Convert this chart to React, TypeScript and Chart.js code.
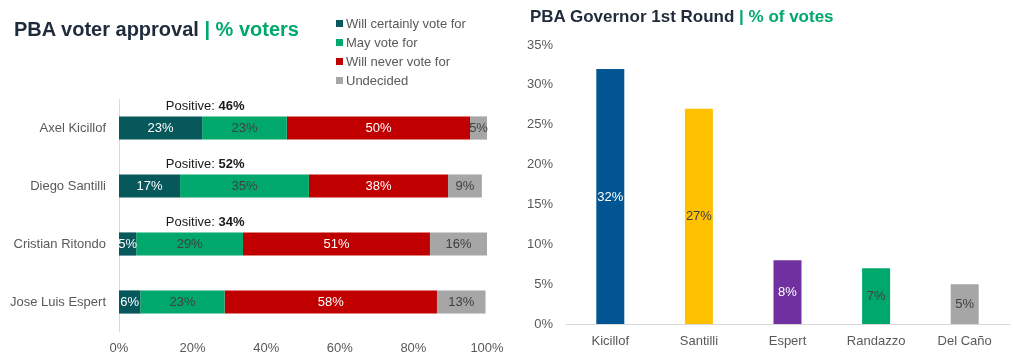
import React, { useEffect, useRef } from "react";
import { Chart, registerables } from "chart.js";
Chart.register(...registerables);

// ---------- Data ----------
const approvalCandidates = ["Axel Kicillof", "Diego Santilli", "Cristian Ritondo", "Jose Luis Espert"];
const approvalSeries = ["Will certainly vote for", "May vote for", "Will never vote for", "Undecided"];
const certainlyVote = [22.6, 16.6, 4.7, 5.8];
const mayVote = [23, 35, 29, 22.9];
const neverVote = [49.8, 37.8, 50.8, 57.7];
const undecided = [4.6, 9.2, 15.5, 13.2];
const positiveShare = [46, 52, 34, null];
const approvalTickMax = 100;

const roundCandidates = ["Kicillof", "Santilli", "Espert", "Randazzo", "Del Caño"];
const roundVotes = [32, 27, 8, 7, 5];
const roundTickMax = 35;

// ---------- Styles ----------
const FONT = "'Liberation Sans', Arial, Helvetica, sans-serif";
const TICK_COLOR = "#595959";
const TITLE_COLOR = "#1f2b3b";
const ACCENT = "#00a86b";
const approvalColors = ["#07585a", "#00a86b", "#c00000", "#a6a6a6"];
const approvalLabelColors = ["#ffffff", "#404040", "#ffffff", "#404040"];
const roundColors = ["#005592", "#ffc000", "#7030a0", "#00a86b", "#a6a6a6"];
const roundLabelColors = ["#ffffff", "#404040", "#ffffff", "#404040", "#404040"];

function makeValueLabelPlugin(colorFor: (di: number, i: number) => string) {
  return {
    id: "valueLabels",
    afterDatasetsDraw(chart: any) {
      const ctx = chart.ctx;
      ctx.save();
      ctx.font = `13px ${FONT}`;
      ctx.textAlign = "center";
      ctx.textBaseline = "middle";
      chart.data.datasets.forEach((ds: any, di: number) => {
        const meta = chart.getDatasetMeta(di);
        meta.data.forEach((el: any, i: number) => {
          const v = ds.data[i];
          if (v == null) return;
          const p = el.getCenterPoint();
          ctx.fillStyle = colorFor(di, i);
          ctx.fillText(Math.round(v) + "%", p.x, p.y + 0.5);
        });
      });
      ctx.restore();
    },
  };
}

function makePositivePlugin(anchorValue: number) {
  return {
    id: "positiveLabels",
    afterDatasetsDraw(chart: any) {
      const ctx = chart.ctx;
      const meta = chart.getDatasetMeta(0);
      const cx = chart.scales.x.getPixelForValue(anchorValue);
      ctx.save();
      ctx.textBaseline = "middle";
      ctx.textAlign = "left";
      ctx.fillStyle = "#1a1a1a";
      positiveShare.forEach((v, i) => {
        if (v == null) return;
        const el = meta.data[i] as any;
        const y = el.y - 22;
        const a = "Positive: ";
        const b = v + "%";
        ctx.font = `13px ${FONT}`;
        const wa = ctx.measureText(a).width;
        ctx.font = `bold 13px ${FONT}`;
        const wb = ctx.measureText(b).width;
        const x0 = cx - (wa + wb) / 2;
        ctx.font = `13px ${FONT}`;
        ctx.fillText(a, x0, y);
        ctx.font = `bold 13px ${FONT}`;
        ctx.fillText(b, x0 + wa, y);
      });
      ctx.restore();
    },
  };
}

function ApprovalChart() {
  const ref = useRef<HTMLCanvasElement>(null);
  useEffect(() => {
    const series = [certainlyVote, mayVote, neverVote, undecided];
    const chart = new Chart(ref.current as HTMLCanvasElement, {
      type: "bar",
      data: {
        labels: approvalCandidates,
        datasets: approvalSeries.map((name, k) => ({
          label: name,
          data: series[k],
          backgroundColor: approvalColors[k],
          borderWidth: 0,
          categoryPercentage: 1,
          barPercentage: 0.4,
        })),
      },
      options: {
        indexAxis: "y",
        responsive: false,
        animation: false,
        layout: { padding: { top: 99, right: 23, left: 0, bottom: 0 } },
        plugins: {
          legend: { display: false },
          tooltip: { enabled: false },
        },
        scales: {
          x: {
            stacked: true,
            min: 0,
            max: approvalTickMax,
            grid: { display: false, drawTicks: false },
            border: { display: false },
            ticks: {
              stepSize: 20,
              padding: 10,
              color: TICK_COLOR,
              font: { family: FONT, size: 13 },
              callback: (v: any) => v + "%",
            },
            afterFit: (s: any) => {
              s.height = 23;
              s.paddingLeft = 0;
              s.paddingRight = 0;
            },
          },
          y: {
            stacked: true,
            grid: { display: false, drawTicks: false },
            border: { display: true, color: "#d9d9d9" },
            ticks: { padding: 13, color: TICK_COLOR, font: { family: FONT, size: 13 } },
            afterFit: (s: any) => {
              s.width = 119;
            },
          },
        },
      } as any,
      plugins: [makeValueLabelPlugin((di) => approvalLabelColors[di]), makePositivePlugin(23.4)],
    });
    return () => chart.destroy();
  }, []);
  return <canvas ref={ref} width={510} height={354} style={{ position: "absolute", left: 0, top: 0, width: 510, height: 354 }} />;
}

function RoundChart() {
  const ref = useRef<HTMLCanvasElement>(null);
  useEffect(() => {
    const chart = new Chart(ref.current as HTMLCanvasElement, {
      type: "bar",
      data: {
        labels: roundCandidates,
        datasets: [
          {
            label: "% of votes",
            data: roundVotes,
            backgroundColor: roundColors,
            borderWidth: 0,
            categoryPercentage: 1,
            barPercentage: 0.316,
          },
        ],
      },
      options: {
        responsive: false,
        animation: false,
        layout: { padding: { top: 45, right: 4, left: 0, bottom: 0 } },
        plugins: {
          legend: { display: false },
          tooltip: { enabled: false },
        },
        scales: {
          x: {
            grid: { display: false, drawTicks: false },
            border: { display: true, color: "#d9d9d9" },
            ticks: { padding: 10, color: TICK_COLOR, font: { family: FONT, size: 13 } },
            afterFit: (s: any) => {
              s.height = 30;
            },
          },
          y: {
            min: 0,
            max: roundTickMax,
            grid: { display: false, drawTicks: false },
            border: { display: false },
            ticks: {
              stepSize: 5,
              padding: 13,
              color: TICK_COLOR,
              font: { family: FONT, size: 13 },
              callback: (v: any) => v + "%",
            },
            afterFit: (s: any) => {
              s.width = 56;
            },
          },
        },
      } as any,
      plugins: [makeValueLabelPlugin((_di, i) => roundLabelColors[i])],
    });
    return () => chart.destroy();
  }, []);
  return <canvas ref={ref} width={503} height={354} style={{ position: "absolute", left: 510, top: 0, width: 503, height: 354 }} />;
}

export default function App() {
  return (
    <div style={{ position: "absolute", left: 0, top: 0, width: 1013, height: 354, background: "#ffffff", fontFamily: FONT, overflow: "hidden" }}>
      <ApprovalChart />
      <RoundChart />
      <div style={{ position: "absolute", left: 14, top: 19, fontSize: 20, lineHeight: "20px", fontWeight: "bold", color: TITLE_COLOR, whiteSpace: "nowrap" }}>
        PBA voter approval <span style={{ color: ACCENT }}>| % voters</span>
      </div>
      <div style={{ position: "absolute", left: 530, top: 8, fontSize: 17, lineHeight: "17px", fontWeight: "bold", color: TITLE_COLOR, whiteSpace: "nowrap" }}>
        PBA Governor 1st Round <span style={{ color: ACCENT }}>| % of votes</span>
      </div>
      <div style={{ position: "absolute", left: 336, top: 13.5 }}>
        {approvalSeries.map((name, k) => (
          <div key={name} style={{ display: "flex", alignItems: "center", height: 19, fontSize: 13, color: TICK_COLOR, whiteSpace: "nowrap" }}>
            <span style={{ display: "inline-block", width: 7, height: 7, background: approvalColors[k], marginRight: 3 }} />
            {name}
          </div>
        ))}
      </div>
    </div>
  );
}
